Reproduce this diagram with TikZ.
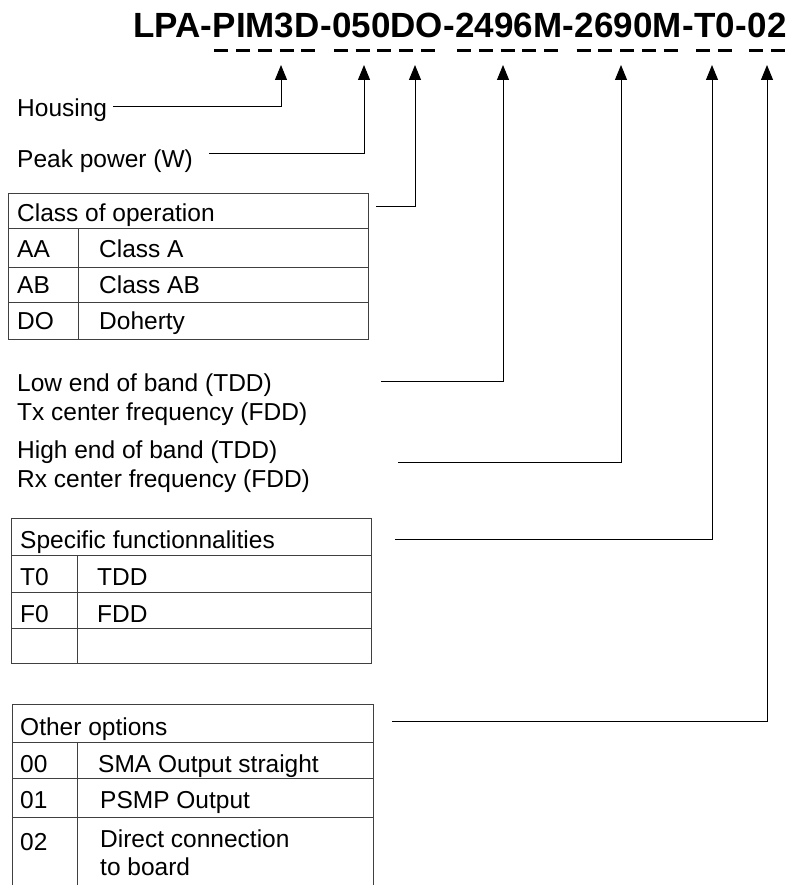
\documentclass[tikz,border=0pt]{standalone}
\usepackage{fontspec}
\setmainfont{Liberation Sans}
\usetikzlibrary{arrows.meta}

\tikzset{
    code/.style={font=\fontsize{35}{40}\selectfont\bfseries, inner sep=0pt, anchor=base west},
    txt/.style={font=\fontsize{24.5}{29}\selectfont, inner sep=0pt, anchor=base west},
    conn/.style={line width=1pt, -{Triangle[length=15pt,width=12pt]}},
    rule/.style={line width=1pt, black!75},
    uline/.style={line width=3pt, dash pattern=on 14pt off 7.75pt}
}

\begin{document}
\begin{tikzpicture}[x=1pt,y=-1pt]
                    \useasboundingbox (0,0) rectangle (793,885);

                    \node[code] (lpa) at (133,38) {LPA-};
                    \node[code] (pim) at (lpa.base east) {PIM3D};
                    \node[code] (d1) at (pim.base east) {-};
                    \node[code] (pwr) at (d1.base east) {050DO};
                    \node[code] (d2) at (pwr.base east) {-};
                    \node[code] (flo) at (d2.base east) {2496M};
                    \node[code] (d3) at (flo.base east) {-};
                    \node[code] (fhi) at (d3.base east) {2690M};
                    \node[code] (d4) at (fhi.base east) {-};
                    \node[code] (fct) at (d4.base east) {T0};
                    \node[code] (d5) at (fct.base east) {-};
                    \node[code] (opt) at (d5.base east) {02};

                    \foreach \seg in {pim,pwr,flo,fhi,fct,opt}
                        \draw[uline] ([xshift=2pt,yshift=-13pt]\seg.base west) -- ([xshift=-2pt,yshift=-13pt]\seg.base east);

                    \node[txt] (housing) at (17,117) {Housing};
                    \node[txt] (peak) at (17,168) {Peak power (W)};
                    \node[txt] (low1) at (17,391) {Low end of band (TDD)};
                    \node[txt] (low2) at (17,420) {Tx center frequency (FDD)};
                    \node[txt] (high1) at (17,458) {High end of band (TDD)};
                    \node[txt] (high2) at (17,487) {Rx center frequency (FDD)};

                    % class of operation
                    \draw[rule] (8,194) rectangle (368,339);
                    \draw[rule] (8,229)--(368,229) (8,267)--(368,267) (8,302)--(368,302);
                    \draw[rule] (78,229)--(78,339);
                    \node[txt] (cls) at (17,222) {Class of operation};
                    \node[txt] (aa) at (17,257) {AA};
                    \node[txt] (aat) at (99,257) {Class A};
                    \node[txt] (ab) at (17,293) {AB};
                    \node[txt] (abt) at (99,293) {Class AB};
                    \node[txt] (do) at (17,329) {DO};
                    \node[txt] (dot) at (99,329) {Doherty};

                    % specific functionnalities
                    \draw[rule] (11,518) rectangle (371,663);
                    \draw[rule] (11,555)--(371,555) (11,592)--(371,592) (11,628)--(371,628);
                    \draw[rule] (77,555)--(77,663);
                    \node[txt] (spec) at (20,548) {Specific functionnalities};
                    \node[txt] (t0) at (20,585) {T0};
                    \node[txt] (t0t) at (97,585) {TDD};
                    \node[txt] (f0) at (20,622) {F0};
                    \node[txt] (f0t) at (97,622) {FDD};

                    % other options
                    \draw[rule] (12,885)--(12,704)--(373,704)--(373,885);
                    \draw[rule] (12,742)--(373,742) (12,778)--(373,778) (12,817)--(373,817);
                    \draw[rule] (77,742)--(77,885);
                    \node[txt] (other) at (20,735) {Other options};
                    \node[txt] (o0) at (20,772) {00};
                    \node[txt] (o0t) at (98,772) {SMA Output straight};
                    \node[txt] (o1) at (20,808) {01};
                    \node[txt] (o1t) at (100,808) {PSMP Output};
                    \node[txt] (o2) at (20,850) {02};
                    \node[txt] (o2t) at (100,847) {Direct connection};
                    \node[txt] (o2u) at (100,875) {to board};

                    \coordinate (tipH) at (281,65);
                    \coordinate (tipP) at (364,65);
                    \coordinate (tipC) at (415,65);
                    \coordinate (tipL) at (503,65);
                    \coordinate (tipU) at (621,65);
                    \coordinate (tipS) at (712,65);
                    \coordinate (tipO) at (767,65);

                    \coordinate (inH) at (113,107);
                    \coordinate (inP) at (209,154);
                    \coordinate (inC) at (376,207);
                    \coordinate (inL) at (381,381);
                    \coordinate (inU) at (398,462);
                    \coordinate (inS) at (395,539);
                    \coordinate (inO) at (392,721);

                    \draw[conn] (inH) -| (tipH);
                    \draw[conn] (inP) -| (tipP);
                    \draw[conn] (inC) -| (tipC);
                    \draw[conn] (inL) -| (tipL);
                    \draw[conn] (inU) -| (tipU);
                    \draw[conn] (inS) -| (tipS);
                    \draw[conn] (inO) -| (tipO);
                \end{tikzpicture}
\end{document}
